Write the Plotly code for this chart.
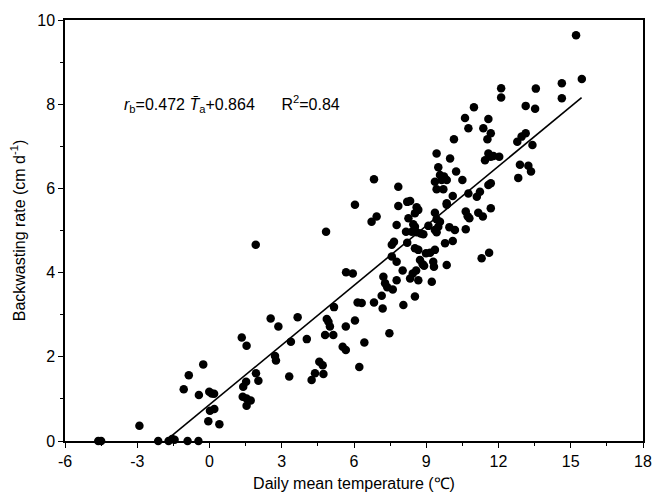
import plotly.graph_objects as go

temp = [-4.62, -4.5, -2.91, -2.13, -1.7, -1.55, -1.45, -0.91, -0.46,
        -1.07, -0.86, -0.44, -0.26, -0.01, 0.09, 0.19, 0.02, 0.2, -0.05, 0.41,
        1.34, 1.54, 1.40, 1.52, 1.38, 1.54, 1.71, 1.54, 1.93, 2.03, 1.92,
        2.54, 2.86, 2.72, 2.76, 3.31, 3.38, 3.66, 4.04, 4.24, 4.38, 4.56, 4.70, 4.73,
        4.80, 4.87, 4.94, 5.0, 5.14, 5.17, 5.53, 5.66, 5.66, 5.67, 5.95, 6.04, 6.15,
        6.32, 6.22, 6.43, 6.04, 4.84,
        6.83, 7.19, 7.15, 7.22, 7.29, 7.38, 7.61, 7.47, 7.77, 7.57, 7.66, 7.57, 7.77,
        8.05, 8.02, 8.33, 8.44, 8.58, 8.53, 8.67, 8.21, 8.53, 8.67, 8.74, 8.85, 8.91,
        8.99, 9.16, 9.23, 9.29, 9.32, 9.36, 9.78, 9.85, 10.10,
        7.77, 7.84, 8.26, 8.21, 8.33, 8.60, 8.53, 8.46, 8.53, 8.16, 8.40, 8.60, 8.77,
        8.88, 9.09, 9.36, 9.43, 9.57, 9.50, 9.43, 9.36, 9.85, 9.96, 10.19, 10.64,
        10.64, 10.72, 10.79, 11.16, 11.35, 11.68, 11.30, 11.61, 8.67,
        15.22, 15.46, 14.63, 14.63, 13.55, 13.52, 13.13, 12.11, 12.11, 10.98, 10.61,
        10.75, 11.58, 11.37, 11.68, 11.54, 10.15, 12.78, 12.96, 13.13, 13.41, 9.43, 9.99,
        11.58, 11.68, 11.44, 12.03, 11.79,
        12.89, 13.24, 13.35, 12.82,
        9.50, 9.57, 9.74, 9.85, 9.64, 9.36, 9.43, 9.71,
        10.24, 10.50, 6.83, 7.84, 6.73, 6.94, 10.10, 9.85,
        10.75, 11.10, 11.23, 11.58, 11.68]

rate = [0, 0, 0.36, 0, 0, 0.05, 0.03, 0, 0,
        1.23, 1.56, 1.09, 1.82, 1.17, 1.13, 1.12, 0.72, 0.76, 0.47, 0.40,
        2.46, 2.26, 1.29, 1.41, 1.05, 1.01, 0.96, 0.84, 1.61, 1.43, 4.66,
        2.91, 2.72, 2.02, 1.91, 1.53, 2.36, 2.94, 2.42, 1.45, 1.61, 1.88, 1.80, 1.59,
        2.52, 2.90, 2.83, 2.72, 2.52, 3.18, 2.24, 2.16, 2.72, 4.01, 3.98, 2.86, 3.29,
        3.28, 1.76, 2.34, 5.61, 4.97,
        3.29, 3.15, 3.45, 3.90, 3.75, 3.65, 3.60, 2.56, 3.82, 4.66, 4.73, 4.38, 4.26,
        3.23, 4.05, 3.86, 3.98, 4.05, 3.43, 3.82, 4.71, 4.58, 4.54, 4.30, 4.20, 4.16,
        4.46, 4.47, 3.78, 4.26, 4.14, 4.54, 4.70, 4.18, 4.75,
        5.13, 5.58, 5.29, 5.68, 5.70, 5.55, 5.41, 5.15, 5.09, 4.97, 4.97, 4.96, 4.93,
        4.91, 5.11, 5.42, 5.27, 5.21, 5.09, 4.96, 5.01, 5.61, 5.08, 5.01, 5.03,
        5.45, 5.34, 5.29, 5.42, 5.33, 5.53, 4.34, 4.47, 5.49,
        9.64, 8.60, 8.50, 8.14, 8.37, 7.89, 7.96, 8.38, 8.16, 7.93, 7.67,
        7.43, 7.65, 7.43, 7.31, 7.17, 7.17, 7.11, 7.23, 7.31, 7.03, 6.83, 6.71,
        6.83, 6.75, 6.67, 6.75, 6.77,
        6.56, 6.54, 6.40, 6.25,
        6.50, 6.32, 6.28, 6.20, 6.20, 6.16, 5.98, 5.98,
        6.40, 6.20, 6.22, 6.04, 5.21, 5.33, 5.82, 5.65,
        5.88, 5.80, 5.92, 6.08, 6.12]

fit_x = [-1.7, 15.45]
slope = 0.472
intercept = 0.864
fit_y = [slope * v + intercept for v in fit_x]

x_ticks = [-6, -3, 0, 3, 6, 9, 12, 15, 18]
y_ticks = [0, 2, 4, 6, 8, 10]

FONT = "Liberation Sans, Arial, sans-serif"

fig = go.Figure()
fig.add_trace(go.Scatter(x=temp, y=rate, mode="markers",
                         marker=dict(color="black", size=8.5),
                         cliponaxis=False, showlegend=False))
fig.add_trace(go.Scatter(x=fit_x, y=fit_y, mode="lines",
                         line=dict(color="black", width=1.6),
                         showlegend=False))

fig.add_annotation(x=-3.65, y=8.0, xref="x", yref="y", xanchor="left", yanchor="middle",
                   showarrow=False,
                   text="<i>r</i><sub>b</sub>=0.472 <i>T\u0304</i><sub>a</sub>+0.864      R<sup>2</sup>=0.84",
                   font=dict(family=FONT, size=16, color="black"))

axis_common = dict(showline=True, linecolor="black", linewidth=1.5, mirror=True,
                   ticks="outside", ticklen=5, tickwidth=1.2, tickcolor="black",
                   showgrid=False, zeroline=False, ticklabeloverflow="allow",
                   tickfont=dict(family=FONT, size=16, color="black"))

fig.update_xaxes(range=[-6, 18], tickvals=x_ticks, ticktext=[str(v) for v in x_ticks],
                 minor=dict(dtick=1.5, tick0=-6, ticks="outside", ticklen=3, tickcolor="black"),
                 title=dict(text="Daily mean temperature (\u2103)", standoff=9,
                            font=dict(family=FONT, size=16, color="black")),
                 **axis_common)
fig.update_yaxes(range=[0, 10], tickvals=y_ticks, ticktext=[str(v) for v in y_ticks],
                 minor=dict(dtick=1, tick0=0, ticks="outside", ticklen=3, tickcolor="black"),
                 title=dict(text="Backwasting rate (cm d<sup>-1</sup>)", standoff=8,
                            font=dict(family=FONT, size=16, color="black")),
                 **axis_common)

fig.update_layout(width=652, height=497, margin=dict(l=65, r=9, t=20, b=56, autoexpand=False),
                  paper_bgcolor="white", plot_bgcolor="white",
                  font=dict(family=FONT, color="black"))

fig.write_html("out.html",
               config={"displayModeBar": False},
               post_script="document.body.style.margin='0';"
                           "document.body.style.overflow='hidden';"
                           "document.documentElement.style.overflow='hidden';")
